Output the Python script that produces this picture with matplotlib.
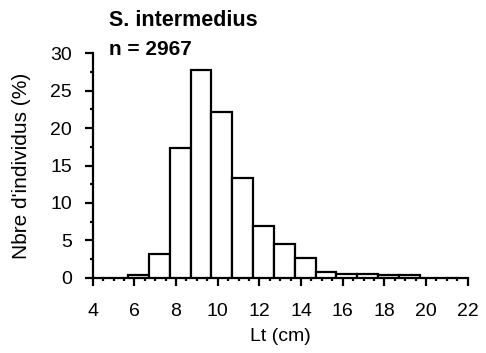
import matplotlib
matplotlib.use("Agg")
import matplotlib.pyplot as plt
from matplotlib.ticker import MultipleLocator

plt.rcParams['font.family'] = ['Liberation Sans', 'DejaVu Sans']

# length classes (cm), lower bound of each 1 cm class
classes = [5.7, 6.7, 7.7, 8.7, 9.7, 10.7, 11.7, 12.7, 13.7, 14.7, 15.7, 16.7, 17.7, 18.7]
pct = [0.3, 3.2, 17.3, 27.8, 22.2, 13.3, 6.9, 4.5, 2.6, 0.8, 0.5, 0.5, 0.3, 0.3]

species = "S. intermedius"
n_total = 2967

fig = plt.figure(figsize=(4.86, 3.53), dpi=100)
ax = fig.add_axes([0.1907, 0.2133, 0.7716, 0.6357])

ax.bar(classes, pct, width=1.0, align='edge', color='white',
       edgecolor='black', linewidth=1.6, zorder=3)

ax.set_xlim(4, 22)
ax.set_ylim(0, 30)
ax.xaxis.set_major_locator(MultipleLocator(2))
ax.xaxis.set_minor_locator(MultipleLocator(0.5))
ax.yaxis.set_major_locator(MultipleLocator(5))
ax.yaxis.set_minor_locator(MultipleLocator(2.5))

for s in ['top', 'right']:
    ax.spines[s].set_visible(False)
for s in ['left', 'bottom']:
    ax.spines[s].set_linewidth(1.6)

ax.tick_params(axis='both', which='major', length=6, width=1.6, labelsize=14)
ax.tick_params(axis='both', which='minor', length=2.5, width=1.6)
ax.tick_params(axis='x', which='major', pad=12)
ax.tick_params(axis='y', which='major', pad=9)

ax.set_xlabel("Lt (cm)", fontsize=14, labelpad=6)
ax.set_ylabel("Nbre d'individus (%)", fontsize=15, labelpad=14)

fig.text(0.225, 0.926, species, fontsize=15.5, fontweight='bold', va='baseline')
fig.text(0.225, 0.844, "n = %d" % n_total, fontsize=15, fontweight='bold', va='baseline')

fig.savefig("out.png", dpi=100)
